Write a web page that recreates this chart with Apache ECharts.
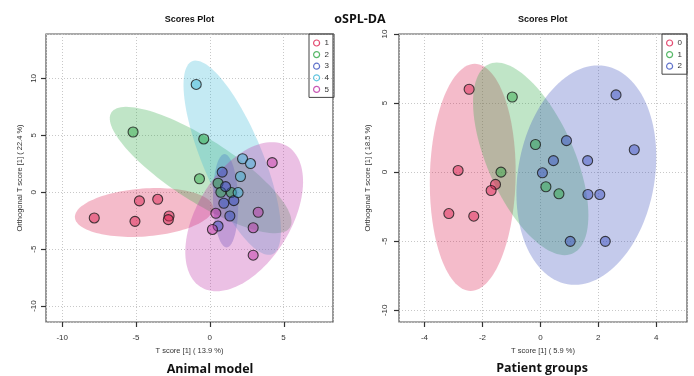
<!DOCTYPE html>
<html>
<head>
<meta charset="utf-8">
<script src="https://cdn.jsdelivr.net/npm/echarts@6/dist/echarts.min.js"></script>
<style>
  html, body { margin: 0; padding: 0; background: #ffffff; }
  #chart { width: 694px; height: 376px; }
</style>
</head>
<body>
<div id="chart"></div>
<script>
// ---- Animal model: OPLS-DA scores, [T score, orthogonal T score] per sample ----
const animalGroups = ['1', '2', '3', '4', '5'];
const animalG1 = [[-7.83, -2.26], [-5.07, -2.56], [-4.77, -0.76], [-3.53, -0.62], [-2.76, -2.09], [-2.81, -2.41]];
const animalG2 = [[-5.20, 5.29], [-0.41, 4.68], [-0.70, 1.18], [0.56, 0.79], [0.75, 0.00], [1.46, -0.03]];
const animalG3 = [[0.84, 1.77], [1.07, 0.49], [0.95, -0.97], [1.63, -0.74], [1.36, -2.09], [0.56, -2.97]];
const animalG4 = [[-0.92, 9.47], [2.22, 2.94], [2.76, 2.52], [2.08, 1.38], [1.92, -0.03]];
const animalG5 = [[4.23, 2.60], [3.28, -1.76], [2.94, -3.12], [2.94, -5.53], [0.41, -1.85], [0.18, -3.27]];

// 95% confidence ellipses: [centre x, centre y, semi-axis dx, dy, conjugate semi-axis dx, dy]
const animalEll1 = [-4.46, -1.78, 4.68, 0.44, 0.11, -2.10];
const animalEll2 = [-0.62, 1.95, 6.05, -5.05, 1.14, 2.30];
const animalEll3 = [1.07, -0.75, 0.07, -4.10, 0.85, 0.00];
const animalEll4 = [1.52, 3.03, 2.72, -8.47, 1.87, 1.04];
const animalEll5 = [2.33, -2.15, 1.88, 6.55, 3.52, 0.00];

// ---- Patient groups ----
const patientGroups = ['0', '1', '2'];
const patientG0 = [[-2.46, 6.00], [-2.84, 0.12], [-1.55, -0.89], [-1.70, -1.33], [-3.16, -3.00], [-2.30, -3.19]];
const patientG1 = [[-0.97, 5.44], [-0.17, 2.00], [-1.36, 0.00], [0.19, -1.06], [0.64, -1.57]];
const patientG2 = [[2.61, 5.59], [3.24, 1.62], [0.90, 2.28], [0.45, 0.83], [0.07, -0.05],
                   [1.63, 0.83], [1.64, -1.62], [2.05, -1.62], [1.03, -5.01], [2.24, -5.01]];

const patientEll0 = [-2.335, -0.38, 0.07, 8.22, 1.48, 0.00];
const patientEll1 = [-0.334, 0.96, -1.17, 6.97, 1.61, 0.00];
const patientEll2 = [1.586, -0.216, 0.40, 7.94, 2.38, 0.00];

// ---- Axis ticks and ranges ----
const animalTicksX = [-10, -5, 0, 5];
const animalTicksY = [-10, -5, 0, 5, 10];
const patientTicksX = [-4, -2, 0, 2, 4];
const patientTicksY = [-10, -5, 0, 5, 10];
const animalRangeX = [-11.1, 8.35];
const animalRangeY = [-11.4, 13.9];
const patientRangeX = [-4.88, 5.06];
const patientRangeY = [-10.85, 10.0];

// ---- Appearance ----
const animalColors = ['#DC1E4E', '#2FA845', '#3A50BE', '#3CB8D8', '#BC30A4'];
const patientColors = ['#DC1E4E', '#2FA845', '#3A50BE'];
const labelFont = 'Liberation Sans';
const TICK_LEN = 5;

function rgba(hex, a) {
  const n = parseInt(hex.slice(1), 16);
  return 'rgba(' + ((n >> 16) & 255) + ',' + ((n >> 8) & 255) + ',' + (n & 255) + ',' + a + ')';
}

// Parametric ellipse outline mapped through the axis scales
function ellipseRenderer(fill) {
  return function (params, api) {
    const cx = api.value(0), cy = api.value(1);
    const ax = api.value(2), ay = api.value(3);
    const bx = api.value(4), by = api.value(5);
    const pts = [];
    const n = 120;
    for (let i = 0; i < n; i++) {
      const t = (i / n) * Math.PI * 2;
      const c = Math.cos(t), s = Math.sin(t);
      pts.push(api.coord([cx + c * ax + s * bx, cy + c * ay + s * by]));
    }
    return { type: 'polygon', shape: { points: pts }, style: { fill: fill }, silent: true };
  };
}

function ellipseSeries(id, ell, color, axisIndex) {
  return {
    type: 'custom', id: id, xAxisIndex: axisIndex, yAxisIndex: axisIndex,
    renderItem: ellipseRenderer(rgba(color, 0.3)),
    data: [ell], encode: { x: 0, y: 1 }, z: 1, silent: true, clip: true
  };
}

// Outward tick marks on the bottom / left frame edges, placed at the tick values
function tickSeries(id, kind, ticks, edge, axisIndex) {
  const data = ticks.map(v => (kind === 'x' ? [v, edge] : [edge, v]));
  return {
    type: 'custom', id: id, xAxisIndex: axisIndex, yAxisIndex: axisIndex,
    data: data, encode: { x: 0, y: 1 }, clip: false, silent: true, z: 6,
    renderItem: function (params, api) {
      const p = api.coord([api.value(0), api.value(1)]);
      const shape = kind === 'x'
        ? { x1: Math.round(p[0]) + 0.5, y1: p[1], x2: Math.round(p[0]) + 0.5, y2: p[1] + TICK_LEN }
        : { x1: p[0], y1: Math.round(p[1]) + 0.5, x2: p[0] - TICK_LEN, y2: Math.round(p[1]) + 0.5 };
      return { type: 'line', shape: shape, style: { stroke: '#333', lineWidth: 1.2 }, silent: true };
    }
  };
}

function pointSeries(name, pts, color, axisIndex) {
  return {
    type: 'scatter', name: name, xAxisIndex: axisIndex, yAxisIndex: axisIndex,
    data: pts, symbol: 'circle', symbolSize: 10, z: 3,
    itemStyle: { color: rgba(color, 0.6), borderColor: '#1a1a1a', borderWidth: 1.1 },
    emphasis: { disabled: true }, silent: true
  };
}

function axis(kind, gridIndex, range, step, ticks, name, opts) {
  const vertical = kind === 'y';
  return {
    type: 'value', gridIndex: gridIndex, min: range[0], max: range[1],
    position: vertical ? 'left' : 'bottom',
    minInterval: step, maxInterval: step,
    name: name, nameLocation: 'middle', nameGap: opts.nameGap,
    nameTextStyle: { fontFamily: labelFont, fontSize: 7.5, color: '#333' },
    axisLine: { show: false, onZero: false },
    axisTick: { show: false },
    axisLabel: { customValues: ticks, rotate: vertical ? 90 : 0, margin: opts.margin,
                 fontFamily: labelFont, fontSize: 8, color: '#333' },
    splitLine: { show: true, lineStyle: { color: '#c8c8c8', width: 1, type: [1, 2] } }
  };
}

function legendFor(prefix, groups, colors, left) {
  return {
    orient: 'vertical', left: left, top: 34,
    data: groups.map((g, i) => ({
      name: prefix + '-' + g, icon: 'circle',
      itemStyle: { color: 'rgba(0,0,0,0)', borderColor: colors[i], borderWidth: 1.2 }
    })),
    formatter: n => n.split('-')[1],
    itemWidth: 6, itemHeight: 6, itemGap: 3.6,
    padding: [5, 5, 4, 4],
    borderColor: '#444', borderWidth: 1,
    textStyle: { fontFamily: labelFont, fontSize: 8, lineHeight: 8, color: '#333' },
    selectedMode: false
  };
}

const animalPoints = [animalG1, animalG2, animalG3, animalG4, animalG5];
const animalEllipses = [animalEll1, animalEll2, animalEll3, animalEll4, animalEll5];
const patientPoints = [patientG0, patientG1, patientG2];
const patientEllipses = [patientEll0, patientEll1, patientEll2];

const series = [];
animalEllipses.forEach((e, i) => series.push(ellipseSeries('animal-ell-' + i, e, animalColors[i], 0)));
patientEllipses.forEach((e, i) => series.push(ellipseSeries('patient-ell-' + i, e, patientColors[i], 1)));
animalPoints.forEach((p, i) => series.push(pointSeries('animal-' + animalGroups[i], p, animalColors[i], 0)));
patientPoints.forEach((p, i) => series.push(pointSeries('patient-' + patientGroups[i], p, patientColors[i], 1)));
series.push(tickSeries('animal-ticks-x', 'x', animalTicksX, animalRangeY[0], 0));
series.push(tickSeries('animal-ticks-y', 'y', animalTicksY, animalRangeX[0], 0));
series.push(tickSeries('patient-ticks-x', 'x', patientTicksX, patientRangeY[0], 1));
series.push(tickSeries('patient-ticks-y', 'y', patientTicksY, patientRangeX[0], 1));

const titleText = (text, x, y, size, family) => ({
  type: 'text', x: x, y: y,
  style: { text: text, fill: '#111', font: 'bold ' + size + 'px "' + family + '"',
           align: 'center', verticalAlign: 'middle' }
});

const chart = echarts.init(document.getElementById('chart'), null, { renderer: 'canvas' });
chart.setOption({
  animation: false,
  backgroundColor: '#ffffff',
  grid: [
    { left: 46, top: 34, width: 287, height: 288, show: true, borderColor: '#555', borderWidth: 1.2, backgroundColor: 'transparent' },
    { left: 399, top: 34, width: 288, height: 288, show: true, borderColor: '#555', borderWidth: 1.2, backgroundColor: 'transparent' }
  ],
  xAxis: [
    axis('x', 0, animalRangeX, 5, animalTicksX, 'T score [1] ( 13.9 %)', { nameGap: 24.5, margin: 11.5 }),
    axis('x', 1, patientRangeX, 2, patientTicksX, 'T score [1] ( 5.9 %)', { nameGap: 24.5, margin: 12 })
  ],
  yAxis: [
    axis('y', 0, animalRangeY, 5, animalTicksY, 'Orthogonal T score [1] ( 22.4 %)', { nameGap: 22, margin: 8.7 }),
    axis('y', 1, patientRangeY, 5, patientTicksY, 'Orthogonal T score [1] ( 18.5 %)', { nameGap: 27, margin: 10.7 })
  ],
  legend: [
    legendFor('animal', animalGroups, animalColors, 309),
    legendFor('patient', patientGroups, patientColors, 662)
  ],
  graphic: [
    titleText('oSPL-DA', 360, 19.5, 12.5, 'Open Sans'),
    titleText('Scores Plot', 189.5, 19.3, 9, labelFont),
    titleText('Scores Plot', 542.8, 19.3, 9, labelFont),
    titleText('Animal model', 210, 369, 12.5, 'Open Sans'),
    titleText('Patient groups', 542, 368.5, 12.5, 'Open Sans')
  ],
  series: series
});
</script>
</body>
</html>
